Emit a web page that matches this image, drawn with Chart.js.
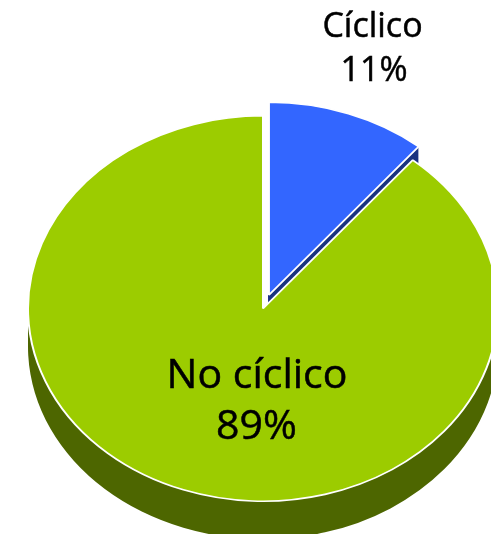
<!DOCTYPE html>
<html>
<head>
<meta charset="utf-8">
<style>
  html, body { margin: 0; padding: 0; background: #fff; overflow: hidden; }
  #wrap { width: 491px; height: 534px; }
</style>
</head>
<body>
<div id="wrap"><canvas id="chartPie" width="491" height="534"></canvas></div>
<script src="https://cdn.jsdelivr.net/npm/chart.js@4/dist/chart.umd.js"></script>
<script>
const categories = ["Cíclico", "No cíclico"];
const values = [11, 89];
const topColors = ["#3366FF", "#9CCC00"];
const sideColors = ["#1A3380", "#4D6600"];

// tilted pie geometry
const centerX = 263;
const centerY = 308.5;
const radius = 235;
const squash = 0.82;
const depth = 38;
const explode = [17.5, 0];

function placeArc(ctx, arc, i, lift) {
    const mid = (arc.startAngle + arc.endAngle) / 2;
    ctx.translate(centerX + Math.cos(mid) * explode[i], centerY + lift + Math.sin(mid) * explode[i] * squash);
    ctx.scale(1, squash);
    ctx.translate(-arc.x, -arc.y);
}

function drawWithOptions(ctx, arc, i, lift, extra) {
    const saved = arc.options;
    arc.options = Object.assign(Object.create(saved), extra);
    ctx.save();
    placeArc(ctx, arc, i, lift);
    arc.draw(ctx);
    ctx.restore();
    arc.options = saved;
}

function drawSide(ctx, arc, i, lift) {
    drawWithOptions(ctx, arc, i, lift, {
        backgroundColor: sideColors[i],
        borderWidth: 0,
    });
}

function drawLabel(ctx, text, x, y) {
    ctx.fillText(text, x, y);
    ctx.strokeText(text, x, y);
}

const tiltedPie = {
    id: "tiltedPie",
    beforeDatasetDraw(chart, args) {
        const ctx = chart.ctx;
        const arcs = args.meta.data;
        // blue wall is a short strip, stacked copies are fine there
        for (let lift = depth; lift > 0; lift--) {
            drawSide(ctx, arcs[0], 0, lift);
        }
        // green wall: one copy at the bottom plus a band up to the lid,
        // stacking it leaves vertical streaks from repeated edge blending
        drawSide(ctx, arcs[1], 1, depth);
        ctx.fillStyle = sideColors[1];
        ctx.fillRect(centerX - arcs[1].outerRadius, centerY, arcs[1].outerRadius * 2, depth);
        // blue lid stays above the green one
        [1, 0].forEach((i) => {
            drawWithOptions(ctx, arcs[i], i, 0, {
                backgroundColor: topColors[i],
                borderColor: "#FFFFFF",
                borderWidth: 2,
            });
        });
        return false;
    },
    afterDatasetsDraw(chart) {
        const ctx = chart.ctx;
        ctx.save();
        ctx.fillStyle = "#000000";
        ctx.strokeStyle = "#000000";
        ctx.lineWidth = 0.5;
        ctx.textAlign = "center";
        ctx.textBaseline = "alphabetic";
        ctx.font = '400 34px "Open Sans"';
        drawLabel(ctx, categories[0], 372.5, 37);
        drawLabel(ctx, values[0] + "%", 374, 81);
        ctx.font = '400 41px "Open Sans"';
        drawLabel(ctx, categories[1], 257, 388);
        drawLabel(ctx, values[1] + "%", 256.5, 439);
        ctx.restore();
    },
};

new Chart(document.getElementById("chartPie"), {
    type: "pie",
    data: {
        labels: categories,
        datasets: [
            {
                data: values,
                backgroundColor: topColors,
                borderWidth: 0,
                clip: false,
            },
        ],
    },
    options: {
        responsive: false,
        animation: false,
        radius: radius,
        events: [],
        plugins: {
            legend: { display: false },
            tooltip: { enabled: false },
        },
    },
    plugins: [tiltedPie],
});
</script>
</body>
</html>
